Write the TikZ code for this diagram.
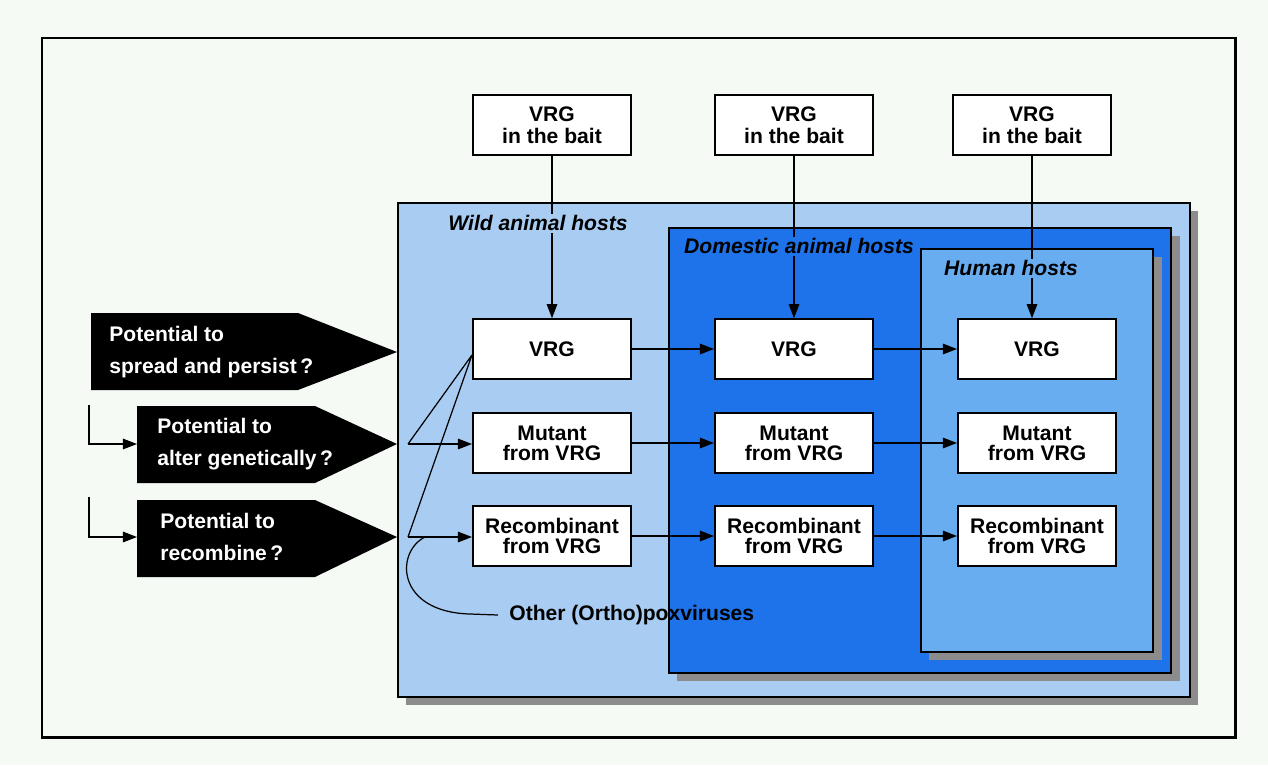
\documentclass[tikz,border=0pt]{standalone}
\usepackage{fontspec}
\setmainfont{Liberation Sans}
\usetikzlibrary{positioning, arrows.meta, calc}
\definecolor{vrgback}{HTML}{F5FAF5}
\definecolor{vrgwild}{HTML}{A9CCF2}
\definecolor{vrgdomestic}{HTML}{1E72EA}
\definecolor{vrghuman}{HTML}{68ADF0}
\definecolor{vrgshadow}{HTML}{8C8C8C}

\begin{document}
\begin{tikzpicture}[x=0.02cm, y=-0.02cm, font=\fontsize{12}{11.5}\selectfont\bfseries,
    box/.style={draw, fill=white, line width=0.9pt, minimum width=3.17cm, minimum height=1.2cm, align=center, inner sep=1pt},
    arr/.style={-{Triangle[length=8pt, width=6pt]}, line width=0.7pt},
    pent/.style={fill=black},
    ptxt/.style={text=white, align=left, font=\fontsize{12}{18}\selectfont\bfseries, anchor=west, inner sep=0pt},
    host/.style={font=\fontsize{12}{14}\selectfont\bfseries\itshape, inner sep=1pt}]
    % page and frame
    \fill[vrgback] (0,0) rectangle (1268,765);
    \draw[line width=1.7pt] (42,38) rectangle (1235,737);
    % host regions
    \fill[vrgshadow] (406,211) rectangle (1198,705);
    \filldraw[fill=vrgwild, line width=0.9pt] (398,203) rectangle (1190,697);
    \fill[vrgshadow] (677,236) rectangle (1180,681);
    \filldraw[fill=vrgdomestic, line width=0.9pt] (669,228) rectangle (1171,673);
    \fill[vrgshadow] (929,257) rectangle (1162,660);
    \filldraw[fill=vrghuman, line width=0.9pt] (921,249) rectangle (1153,652);
    % boxes
    \foreach \c/\x/\bx in {1/552/552, 2/794/794, 3/1037/1032} {
      \node[box] (bait\c) at (\bx,125) {VRG\\[1pt]in the bait};
      \node[box] (v\c) at (\x,349) {VRG};
      \node[box] (m\c) at (\x,443) {Mutant\\from VRG};
      \node[box] (r\c) at (\x,536) {Recombinant\\from VRG};
      \draw[arr] (bait\c.south) -- (bait\c.south |- v\c.north);
    }
    \foreach \row in {v,m,r} {
      \draw[arr] (\row1) -- (\row2);
      \draw[arr] (\row2) -- (\row3);
    }
    % host labels
    \node[host, fill=vrgwild] (wild) at (538,223) {Wild animal hosts};
    \node[host, fill=vrgdomestic] (domestic) at (799,246) {Domestic animal hosts};
    \node[host, fill=vrghuman] (human) at (1011,268) {Human hosts};
    % potentials
    \fill[pent] (91,313) -- (298,313) -- (397,352) -- (298,390) -- (91,390) -- cycle;
    \fill[pent] (137,406) -- (315,406) -- (397,444) -- (315,483) -- (137,483) -- cycle;
    \fill[pent] (137,500) -- (315,500) -- (397,537) -- (315,577) -- (137,577) -- cycle;
    \node[ptxt] (spread) at (109,352) {Potential to\\spread and persist\,?};
    \node[ptxt] (alter) at (157,444) {Potential to\\alter genetically\,?};
    \node[ptxt] (recomb) at (160,537) {Potential to\\recombine\,?};
    \coordinate (s2) at (89,405);
    \coordinate (s3) at (89,497);
    \coordinate (p2) at (137,444);
    \coordinate (p3) at (137,537);
    \draw[arr] (s2) |- (p2);
    \draw[arr] (s3) |- (p3);
    % fan into the wild host
    \coordinate (f2) at (408,444);
    \coordinate (f3) at (408,537);
    \coordinate (apex) at ($(v1.west)+(0,6)$);
    \draw[line width=0.7pt] (f2) -- (apex) (f3) -- (apex);
    \draw[arr] (f2) -- (f2 -| m1.west);
    \draw[arr] (f3) -- (f3 -| r1.west);
    % other poxviruses
    \coordinate (c0) at (425,537);
    \node[anchor=west, inner sep=0.22cm] (other) at (498,615) {Other (Ortho)poxviruses};
    \draw[line width=0.7pt] (c0) .. controls (395,552) and (396,612) .. (470,614) -- (other.west);
\end{tikzpicture}
\end{document}
